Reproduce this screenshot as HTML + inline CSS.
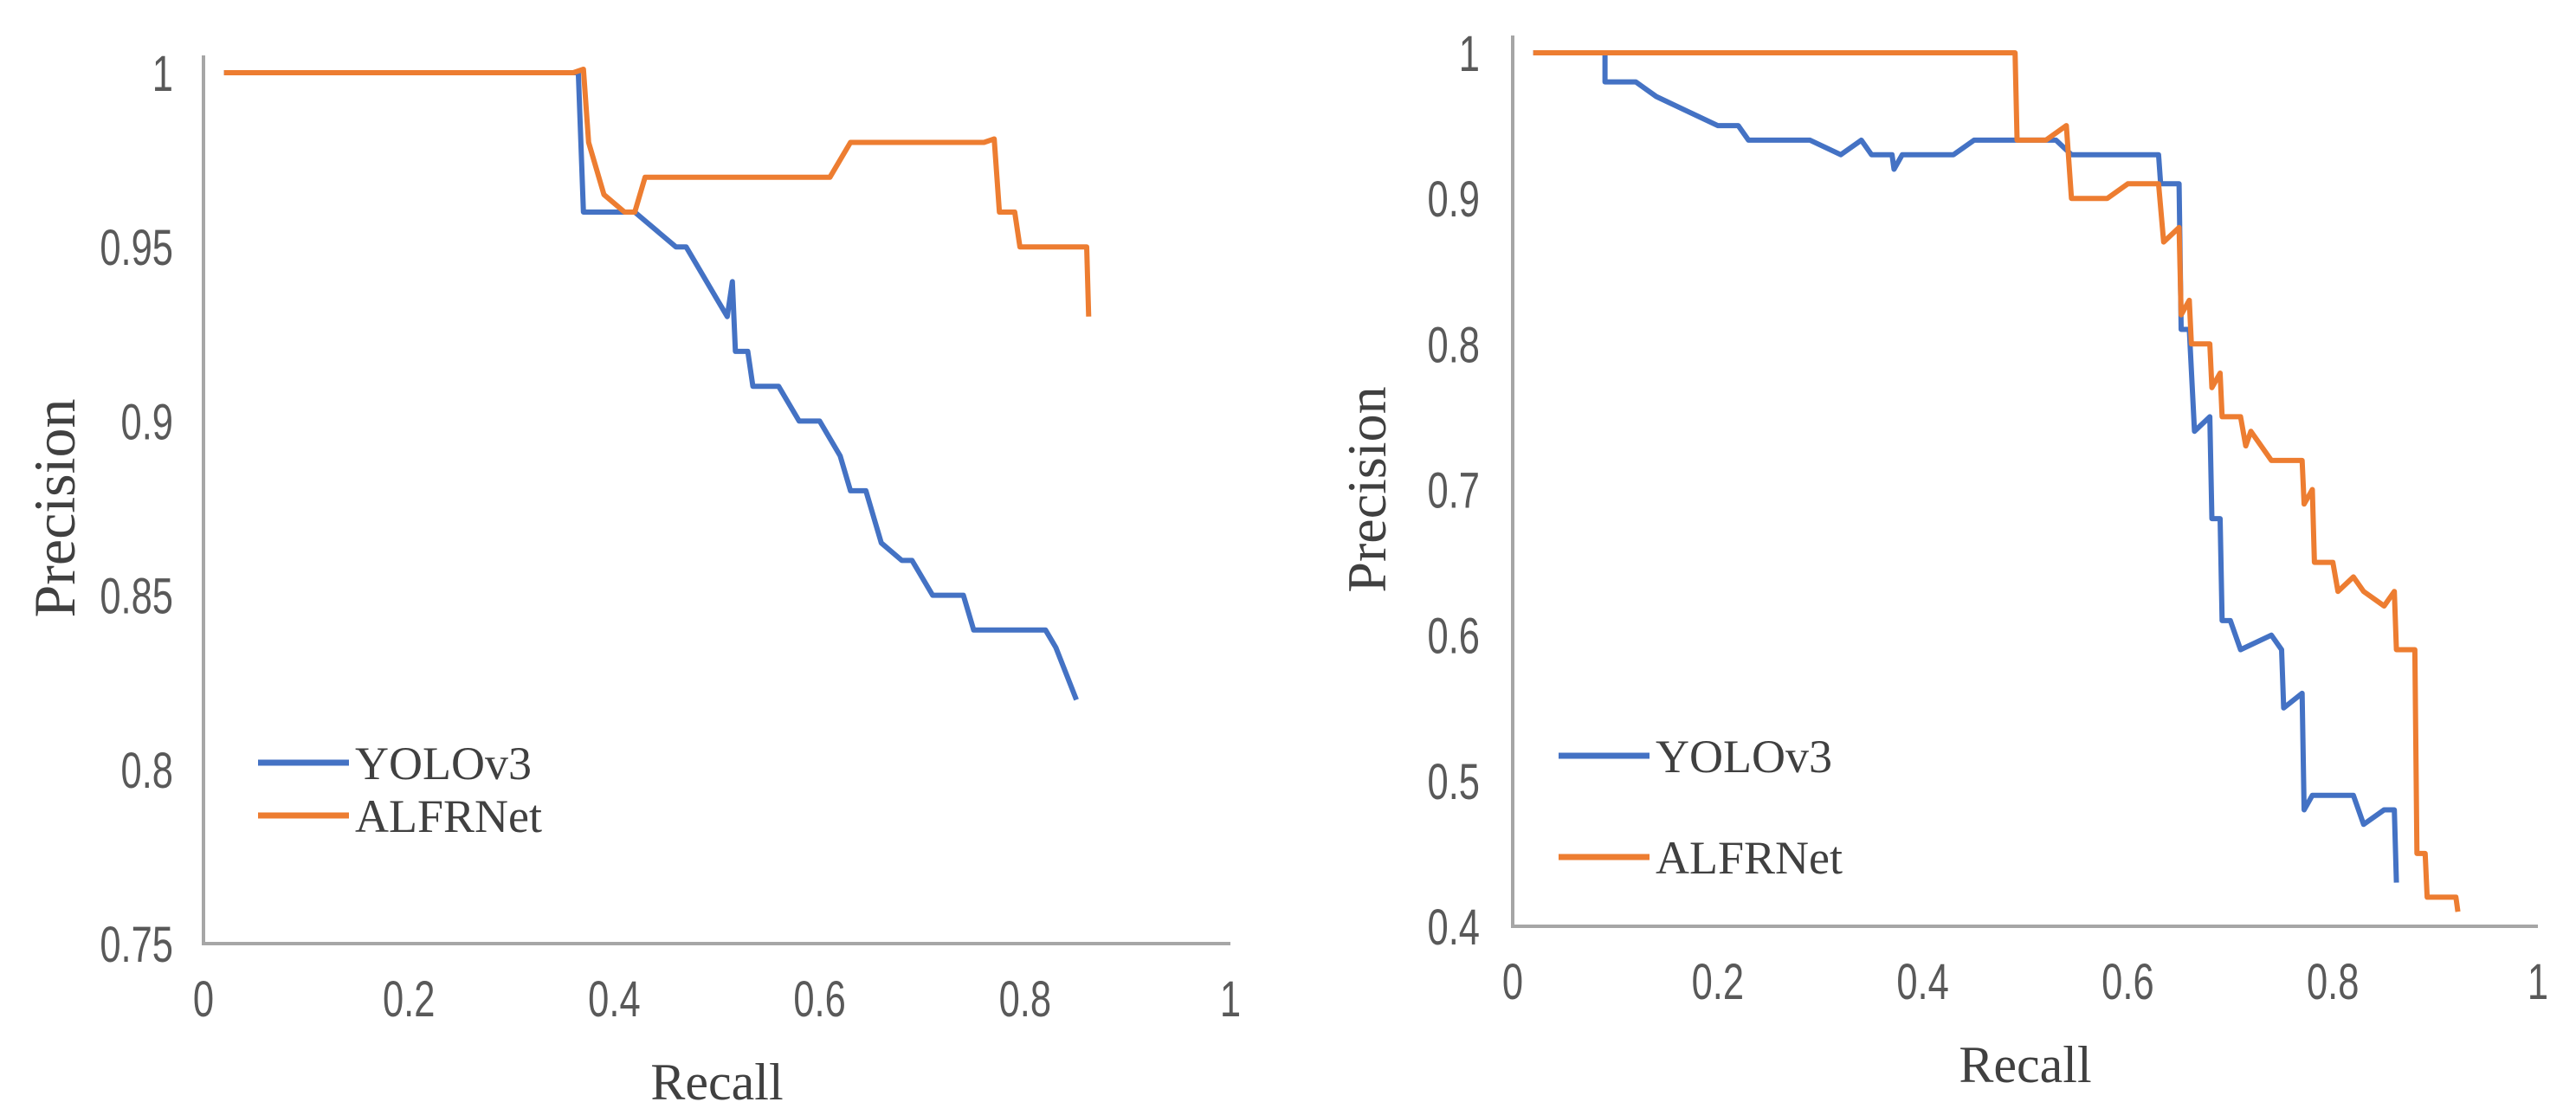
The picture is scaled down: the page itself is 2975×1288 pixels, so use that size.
<!DOCTYPE html>
<html><head><meta charset="utf-8"><style>
html,body{margin:0;padding:0;background:#fff;}
svg{display:block;}
.tick{font-family:"Liberation Sans",sans-serif;font-size:58px;fill:#595959;}
.title{font-family:"Liberation Serif",serif;font-size:60px;fill:#404040;}
.leg{font-family:"Liberation Serif",serif;font-size:54px;fill:#404040;}
</style></head><body>
<svg id="chart" width="2975" height="1288" xmlns="http://www.w3.org/2000/svg"></svg>
<script>
const leftXTicks=["0","0.2","0.4","0.6","0.8","1"];
const leftYTicks=["0.75","0.8","0.85","0.9","0.95","1"];
const rightYTicks=["0.4","0.5","0.6","0.7","0.8","0.9","1"];
const seriesNames=["YOLOv3","ALFRNet"];
const leftYolo=[[0.02,1],[0.36,1],[0.365,1.0],[0.37,0.96],[0.38,0.96],[0.42,0.96],[0.44,0.955],[0.46,0.95],[0.47,0.95],[0.48,0.945],[0.5,0.935],[0.51,0.93],[0.515,0.94],[0.518,0.92],[0.53,0.92],[0.535,0.91],[0.56,0.91],[0.58,0.9],[0.6,0.9],[0.62,0.89],[0.63,0.88],[0.645,0.88],[0.66,0.865],[0.68,0.86],[0.69,0.86],[0.71,0.85],[0.74,0.85],[0.75,0.84],[0.82,0.84],[0.83,0.835],[0.85,0.82]];
const leftAlfr=[[0.02,1],[0.36,1],[0.37,1.001],[0.375,0.98],[0.39,0.965],[0.41,0.96],[0.42,0.96],[0.43,0.97],[0.6,0.97],[0.61,0.97],[0.63,0.98],[0.76,0.98],[0.77,0.981],[0.775,0.96],[0.79,0.96],[0.795,0.95],[0.86,0.95],[0.862,0.93]];
const rightYolo=[[0.02,1],[0.09,1],[0.09,0.98],[0.12,0.98],[0.14,0.97],[0.17,0.96],[0.2,0.95],[0.22,0.95],[0.23,0.94],[0.29,0.94],[0.32,0.93],[0.34,0.94],[0.35,0.93],[0.37,0.93],[0.372,0.92],[0.38,0.93],[0.43,0.93],[0.45,0.94],[0.53,0.94],[0.545,0.93],[0.63,0.93],[0.632,0.91],[0.65,0.91],[0.652,0.81],[0.66,0.81],[0.665,0.74],[0.68,0.75],[0.682,0.68],[0.69,0.68],[0.692,0.61],[0.7,0.61],[0.71,0.59],[0.74,0.6],[0.75,0.59],[0.752,0.55],[0.77,0.56],[0.772,0.48],[0.78,0.49],[0.82,0.49],[0.825,0.48],[0.83,0.47],[0.85,0.48],[0.86,0.48],[0.862,0.43]];
const rightAlfr=[[0.02,1],[0.49,1],[0.492,0.94],[0.52,0.94],[0.54,0.95],[0.545,0.9],[0.58,0.9],[0.6,0.91],[0.63,0.91],[0.635,0.87],[0.65,0.88],[0.652,0.82],[0.66,0.83],[0.662,0.8],[0.68,0.8],[0.682,0.77],[0.69,0.78],[0.692,0.75],[0.71,0.75],[0.715,0.73],[0.72,0.74],[0.74,0.72],[0.77,0.72],[0.772,0.69],[0.78,0.7],[0.782,0.65],[0.8,0.65],[0.805,0.63],[0.82,0.64],[0.83,0.63],[0.85,0.62],[0.86,0.63],[0.862,0.59],[0.88,0.59],[0.882,0.45],[0.89,0.45],[0.892,0.42],[0.92,0.42],[0.922,0.41]];

const NS="http://www.w3.org/2000/svg";
const svg=document.getElementById('chart');
function mk(tag,attrs,parent,text){const e=document.createElementNS(NS,tag);for(const k in attrs)e.setAttribute(k,attrs[k]);if(text!==undefined)e.textContent=text;parent.appendChild(e);return e;}

function drawPanel(id,cfg){
  const g=mk('g',{},svg);
  
  
  const sx=v=>cfg.x0+(v-0)/(1-0)*(cfg.x1-cfg.x0);
  const sy=v=>cfg.yb+(v-cfg.ymin)/(cfg.ymax-cfg.ymin)*(cfg.yt-cfg.yb);
  const ax=mk('path',{d:`M${cfg.x0},${cfg.yt-20} L${cfg.x0},${cfg.yb} L${cfg.x1},${cfg.yb}`,fill:'none',stroke:'#A6A6A6','stroke-width':4},g);
  
  
  leftXTicks.forEach(t=>{
    const el=mk('text',{x:0,y:0,'text-anchor':'middle',class:'tick',transform:`translate(${sx(parseFloat(t))},${cfg.yb+84}) scale(0.75,1)`},g,t);
    
    
  });
  cfg.yticks.forEach(t=>{
    const el=mk('text',{x:0,y:0,'text-anchor':'end',class:'tick',transform:`translate(${cfg.x0-cfg.ygap},${sy(parseFloat(t))+21}) scale(0.75,1)`},g,t);
    
    
  });
  const xt=mk('text',{x:(cfg.x0+cfg.x1)/2,y:cfg.yb+180,'text-anchor':'middle',class:'title'},g,'Recall');
  
  
  const yc=(cfg.yt+cfg.yb)/2;
  const yt=mk('text',{x:cfg.ytx,y:yc,'text-anchor':'middle',class:'title','font-size':cfg.ytsize,transform:`rotate(-90 ${cfg.ytx} ${yc})`},g,'Precision');
  yt.style.fontSize=cfg.ytsize+'px';
  
  
  [[cfg.yolo,'#4472C4'],[cfg.alfr,'#ED7D31']].forEach((s,i)=>{
    const d=s[0].map((p,j)=>(j?'L':'M')+sx(p[0]).toFixed(1)+','+sy(p[1]).toFixed(1)).join(' ');
    const p=mk('path',{d:d,fill:'none',stroke:s[1],'stroke-width':6,'stroke-linejoin':'round'},g);
    
    
    const ly=cfg.legY[i];
    const ll=mk('line',{x1:cfg.legX,x2:cfg.legX+105,y1:ly,y2:ly,stroke:s[1],'stroke-width':7},g);
    
    
    const lt=mk('text',{x:cfg.legX+112,y:ly+19,class:'leg'},g,seriesNames[i]);
    
    
  });
}
drawPanel('left',{x0:235,x1:1421,yt:84,yb:1090,ymin:0.75,ymax:1,yticks:leftYTicks,ygap:35,ytx:86,ytsize:68,yolo:leftYolo,alfr:leftAlfr,legX:298,legY:[881,942]});
drawPanel('right',{x0:1747,x1:2931,yt:61,yb:1070,ymin:0.4,ymax:1,yticks:rightYTicks,ygap:38,ytx:1600,ytsize:64,yolo:rightYolo,alfr:rightAlfr,legX:1800,legY:[873,990]});
</script>
</body></html>
